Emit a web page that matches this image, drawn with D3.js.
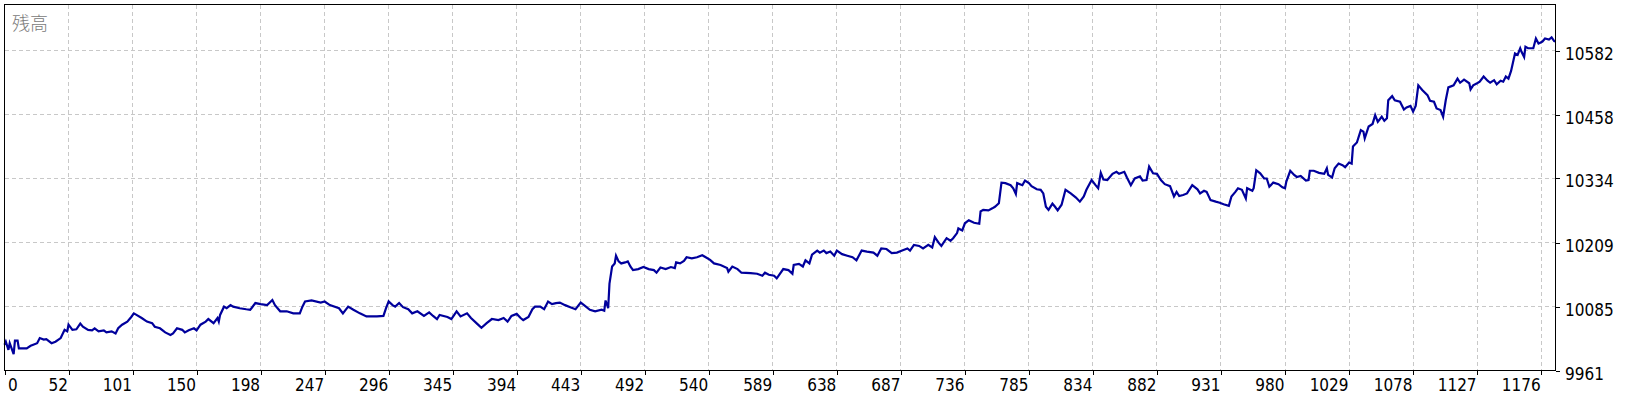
<!DOCTYPE html>
<html>
<head>
<meta charset="utf-8">
<script src="https://cdn.jsdelivr.net/npm/d3@7"></script>
<style>
  body { margin: 0; background: #fff; }
  svg { display: block; }
</style>
</head>
<body>
<div id="chart"></div>
<script>
// balance after each trade: [trade number, balance]
var equity = [
  [0,10011],[1,10017],[3,10001],[4,10014],[7,9993],[8,10019],[10,10019],[11,10004],[17,10004],[20,10009],
  [22,10011],[25,10014],[27,10024],[30,10021],[32,10022],[36,10014],[39,10017],[43,10024],[46,10040],[48,10037],
  [49,10050],[52,10040],[55,10041],[58,10052],[60,10046],[64,10040],[67,10039],[69,10043],[72,10037],[76,10039],
  [78,10035],[82,10037],[85,10033],[87,10043],[90,10050],[94,10056],[97,10065],[99,10072],[101,10069],[105,10063],
  [109,10056],[113,10053],[115,10046],[119,10043],[123,10035],[127,10030],[129,10033],[132,10043],[136,10040],[138,10035],
  [141,10039],[145,10043],[147,10039],[150,10050],[154,10056],[156,10061],[160,10053],[163,10063],[164,10056],[165,10069],
  [168,10085],[170,10082],[173,10088],[175,10085],[180,10082],[185,10080],[188,10079],[189,10082],[192,10092],[196,10090],
  [201,10088],[205,10098],[207,10088],[211,10076],[216,10076],[221,10072],[226,10072],[228,10085],[230,10095],[235,10097],
  [242,10093],[245,10095],[249,10088],[256,10082],[259,10072],[263,10085],[267,10079],[272,10072],[277,10066],[285,10066],
  [290,10067],[292,10082],[294,10095],
  [297,10088],[299,10085],[302,10092],[305,10084],[309,10080],[312,10072],[316,10076],[321,10067],[325,10074],[328,10067],
  [331,10061],[333,10069],[339,10065],[342,10061],[346,10076],[349,10066],[354,10072],[357,10063],[362,10051],[365,10044],
  [369,10053],[373,10061],[378,10059],[382,10063],[385,10056],[388,10067],[392,10071],[395,10063],[397,10059],[401,10065],
  [404,10080],[406,10085],[410,10085],[413,10080],[416,10095],[419,10090],[422,10092],[425,10093],[429,10088],[433,10084],
  [437,10080],[441,10093],[444,10087],[448,10079],[452,10076],[457,10079],[459,10077],[460,10097],[462,10082],[463,10130],
  [465,10163],[467,10169],[468,10184],[470,10173],[472,10169],[475,10171],[477,10173],[479,10163],[481,10156],[485,10158],
  [489,10162],[493,10158],[497,10156],[499,10151],[502,10161],[506,10158],[510,10162],[513,10160],[514,10171],[517,10169],
  [520,10174],[522,10181],[526,10179],[530,10181],[534,10185],[536,10182],[540,10176],[543,10169],[548,10166],[553,10160],
  [554,10153],[557,10163],[561,10158],[564,10151],[571,10150],[576,10149],[580,10145],[582,10151],[585,10147],[589,10145],
  [591,10140],
  [596,10158],[600,10156],[603,10149],[604,10166],[608,10168],[611,10163],[613,10175],[616,10169],[618,10186],[622,10194],
  [624,10190],[627,10194],[629,10189],[632,10192],[635,10184],[637,10194],[641,10187],[645,10184],[649,10181],[652,10175],
  [656,10194],[660,10192],[665,10190],[668,10184],[671,10198],[675,10197],[679,10189],[683,10190],[687,10194],[691,10198],
  [693,10194],[696,10205],[700,10203],[703,10198],[707,10205],[710,10200],[712,10220],[715,10209],[717,10203],[721,10218],
  [724,10213],[726,10218],[729,10228],[730,10237],[733,10233],[735,10247],[738,10253],[742,10248],[746,10246],[747,10270],
  [749,10273],[753,10272],[756,10276],[758,10279],[761,10286],[763,10326],[766,10325],[770,10321],[772,10315],[774,10304],
  [775,10325],[779,10321],[781,10330],[784,10325],[786,10319],[790,10313],[793,10312],[795,10305],[797,10279],[799,10273],
  [802,10285],[804,10279],[806,10272],[809,10283],[812,10312],[816,10305],[820,10297],[823,10289],[826,10299],[828,10312],
  [832,10331],[835,10321],[837,10315],[839,10345],[841,10332],[844,10331],[848,10343],[851,10347],[853,10343],[857,10347],
  [859,10336],[862,10321],[865,10334],[869,10338],[871,10330],[874,10331],[876,10357],[879,10344],[882,10343],
  [885,10331],[888,10323],[892,10319],[895,10299],[897,10308],[899,10300],[902,10302],[905,10305],[909,10321],[913,10313],
  [915,10305],[918,10310],[920,10308],[923,10292],[927,10289],[930,10287],[933,10284],[937,10281],[939,10299],[942,10308],
  [944,10315],[947,10312],[950,10295],[951,10315],[955,10310],[956,10315],[958,10350],[961,10344],[964,10334],[966,10334],
  [968,10318],[971,10326],[975,10323],[978,10317],[980,10315],[981,10328],[984,10349],[987,10341],[989,10337],[992,10339],
  [996,10330],[998,10331],[999,10349],[1002,10349],[1006,10345],[1010,10343],[1012,10354],[1013,10341],[1016,10336],[1018,10354],
  [1021,10363],[1024,10360],[1026,10356],[1029,10365],[1031,10363],[1032,10396],[1035,10404],[1038,10428],[1040,10425],[1041,10412],
  [1044,10435],[1047,10440],[1049,10457],[1051,10444],[1054,10454],[1056,10446],[1058,10451],[1059,10486],[1062,10494],[1064,10486],
  [1068,10483],[1071,10468],[1073,10472],[1076,10475],[1078,10464],[1080,10475],[1082,10515],[1085,10506],[1089,10496],[1091,10485],
  [1094,10483],[1096,10470],[1099,10467],[1101,10454],[1103,10486],[1105,10511],[1109,10515],[1112,10528],[1114,10520],[1117,10526],
  [1121,10519],[1122,10507],[1124,10515],[1127,10519],[1129,10522],[1132,10532],[1135,10524],[1137,10520],[1140,10525],[1142,10517],
  [1145,10524],[1147,10522],[1149,10532],[1151,10528],[1153,10543],[1156,10577],[1158,10574],[1160,10587],[1161,10580],[1163,10570],
  [1164,10590],[1166,10587],[1170,10587],[1172,10606],[1174,10596],[1177,10600],[1179,10606],[1182,10604],[1184,10608],[1186,10601],
  [1187,10600]
];

var xTickLabels = [0, 52, 101, 150, 198, 247, 296, 345, 394, 443, 492, 540, 589,
  638, 687, 736, 785, 834, 882, 931, 980, 1029, 1078, 1127, 1176];
var yTickValues = [9961, 10085, 10209, 10334, 10458, 10582];
var yTop = 10672;
var chartTitle = "残高";

// sizes
var svgWidth = 1640;
var svgHeight = 400;
var margin = { top: 4.5, right: 84.5, bottom: 29.5, left: 4.5 };
var width = svgWidth - margin.left - margin.right;
var height = svgHeight - margin.top - margin.bottom;

var svg = d3.select("#chart").append("svg")
  .attr("width", svgWidth)
  .attr("height", svgHeight);

var chartGroup = svg.append("g")
  .attr("transform", `translate(${margin.left}, ${margin.top})`);

// scales
var lastTrade = d3.max(equity, d => d[0]);
var xScale = d3.scaleLinear().domain([0, lastTrade]).range([0, width]);
var yScale = d3.scaleLinear().domain([yTickValues[0], yTop]).range([height, 0]);

// tester labels sit on an even pixel grid, so ticks go on a grid-index scale
var xGrid = d3.scaleLinear()
  .domain([0, xTickLabels.length - 1])
  .range([0, xScale(xTickLabels[xTickLabels.length - 1])]);

// grid
var gridColor = "#c8c8c8";
chartGroup.append("g").selectAll("line")
  .data(d3.range(1, xTickLabels.length))
  .join("line")
  .attr("x1", d => Math.round(xGrid(d)))
  .attr("x2", d => Math.round(xGrid(d)))
  .attr("y1", 0)
  .attr("y2", height)
  .attr("stroke", gridColor)
  .attr("stroke-dasharray", "4,3")
  .attr("shape-rendering", "crispEdges");

chartGroup.append("g").selectAll("line")
  .data(yTickValues.slice(1))
  .join("line")
  .attr("x1", 0)
  .attr("x2", width)
  .attr("y1", d => Math.round(yScale(d)))
  .attr("y2", d => Math.round(yScale(d)))
  .attr("stroke", gridColor)
  .attr("stroke-dasharray", "4,3")
  .attr("shape-rendering", "crispEdges");

// title
chartGroup.append("text")
  .attr("x", 7.5)
  .attr("y", 25)
  .attr("fill", "#7a7a7a")
  .style("font-family", "'Noto Sans CJK JP', 'Noto Sans CJK SC', sans-serif")
  .style("font-weight", 300)
  .style("font-size", "18px")
  .text(chartTitle);

// balance line
var line = d3.line()
  .x(d => xScale(d[0]))
  .y(d => yScale(d[1]));

chartGroup.append("path")
  .datum(equity)
  .attr("fill", "none")
  .attr("stroke", "#00009c")
  .attr("stroke-width", 2.2)
  .attr("stroke-linejoin", "miter")
  .attr("d", line);

// frame
chartGroup.append("rect")
  .attr("x", 0)
  .attr("y", 0)
  .attr("width", width)
  .attr("height", height)
  .attr("fill", "none")
  .attr("stroke", "#000")
  .attr("shape-rendering", "crispEdges");

var labelFont = "'DejaVu Sans Condensed', 'DejaVu Sans', sans-serif";

// x axis
var bottomAxis = d3.axisBottom(xGrid)
  .tickValues(d3.range(xTickLabels.length))
  .tickFormat(i => xTickLabels[i])
  .tickSize(4)
  .tickSizeOuter(0);

var xAxis = chartGroup.append("g")
  .attr("transform", `translate(0, ${height})`)
  .call(bottomAxis);
xAxis.select(".domain").remove();
xAxis.selectAll(".tick line").attr("stroke", "#000").attr("shape-rendering", "crispEdges");
xAxis.selectAll(".tick text")
  .attr("fill", "#000")
  .attr("y", 8)
  .attr("x", (d, i) => i === 0 ? 3 : -1)
  .attr("text-anchor", (d, i) => i === 0 ? "start" : "end")
  .style("font-family", labelFont)
  .style("font-size", "17px");

// y axis
var rightAxis = d3.axisRight(yScale)
  .tickValues(yTickValues)
  .tickFormat(d3.format("d"))
  .tickSize(4)
  .tickSizeOuter(0);

var yAxis = chartGroup.append("g")
  .attr("transform", `translate(${width}, 0)`)
  .call(rightAxis);
yAxis.select(".domain").remove();
yAxis.selectAll(".tick line").attr("stroke", "#000").attr("shape-rendering", "crispEdges");
yAxis.selectAll(".tick text")
  .attr("fill", "#000")
  .attr("x", 9.5)
  .attr("dy", "0.5em")
  .style("font-family", labelFont)
  .style("font-size", "17px");
</script>
</body>
</html>
